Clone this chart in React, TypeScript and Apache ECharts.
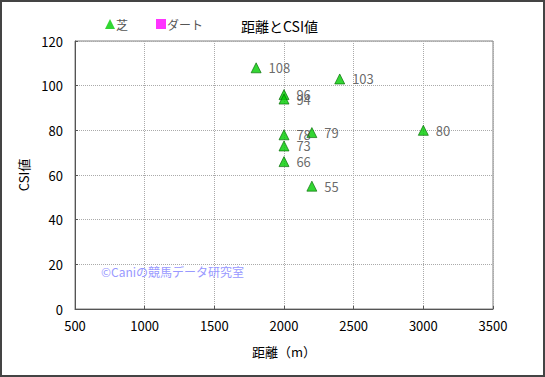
import React, { useEffect, useRef } from "react";
import * as echarts from "echarts";

const turfDistance = [1800, 2400, 2000, 2000, 2000, 2200, 2000, 2000, 2200, 3000];
const turfCSI = [108, 103, 96, 94, 78, 79, 73, 66, 55, 80];
const dirtDistance: number[] = [];
const dirtCSI: number[] = [];
const xTicks = { min: 500, max: 3500, interval: 500 };
const yTicks = { min: 0, max: 120, interval: 20 };

const FONT = '"Noto Sans CJK JP", "Noto Sans", sans-serif';

export default function App() {
  const ref = useRef<HTMLDivElement>(null);
  useEffect(() => {
    if (!ref.current) return;
    const chart = echarts.init(ref.current, undefined, { renderer: "svg" });
    const turf = turfDistance.map((d, i) => [d, turfCSI[i]]);
    const dirt = dirtDistance.map((d, i) => [d, dirtCSI[i]]);
    chart.setOption({
      animation: false,
      backgroundColor: "#fff",
      textStyle: { fontFamily: FONT },
      title: {
        text: "距離とCSI値",
        left: 236,
        top: 14,
        textStyle: { fontSize: 14, fontWeight: "normal", color: "#000", fontFamily: FONT },
      },
      legend: {
        left: 100,
        top: 13,
        itemGap: 28,
        itemWidth: 10,
        itemHeight: 10,
        textStyle: { fontSize: 12, color: "#555", fontFamily: FONT, padding: [0, 0, 0, -4] },
        data: [
          { name: "芝", icon: "triangle", itemStyle: { color: "#00cc00", borderWidth: 0 } },
          { name: "ダート", icon: "rect", itemStyle: { color: "#ff00ff", borderWidth: 0 } },
        ],
      },
      grid: { left: 75, top: 41, width: 418, height: 268, show: true, borderColor: "#808080", borderWidth: 1 },
      xAxis: {
        type: "value",
        min: xTicks.min,
        max: xTicks.max,
        interval: xTicks.interval,
        name: "距離（m）",
        nameLocation: "middle",
        nameGap: 36,
        nameTextStyle: { fontSize: 13, color: "#000", fontFamily: FONT },
        axisLine: { lineStyle: { color: "#555" } },
        axisTick: { show: true, inside: true, length: 3, lineStyle: { color: "#555" } },
        axisLabel: { fontSize: 13, color: "#000", margin: 10, formatter: (v: number) => String(v) },
        splitLine: { lineStyle: { type: "dotted", color: "#aaa" } },
      },
      yAxis: {
        type: "value",
        min: yTicks.min,
        max: yTicks.max,
        interval: yTicks.interval,
        name: "CSI値",
        nameLocation: "middle",
        nameGap: 42,
        nameTextStyle: { fontSize: 13, color: "#000", fontFamily: FONT },
        axisLine: { show: true, lineStyle: { color: "#555" } },
        axisTick: { show: true, inside: true, length: 3, lineStyle: { color: "#555" } },
        axisLabel: { fontSize: 13, color: "#000", margin: 12, formatter: (v: number) => String(v) },
        splitLine: { lineStyle: { type: "dotted", color: "#aaa" } },
      },
      series: [
        {
          name: "芝",
          type: "scatter",
          symbol: "triangle",
          symbolSize: 10,
          itemStyle: { color: "#00cc00", borderColor: "#006600", borderWidth: 0.8 },
          label: {
            show: true,
            position: "right",
            distance: 7,
            fontSize: 13,
            color: "#444",
            formatter: (p: any) => String(p.value[1]),
          },
          data: turf,
        },
        {
          name: "ダート",
          type: "scatter",
          symbol: "rect",
          symbolSize: 9,
          itemStyle: { color: "#ff00ff" },
          data: dirt,
        },
      ],
      graphic: [
        {
          type: "text",
          left: 101,
          top: 265,
          style: { text: "©Caniの競馬データ研究室", fontSize: 12, fill: "#9999ff", fontFamily: FONT },
          z: 10,
        },
        {
          type: "rect",
          shape: { x: 1, y: 1, width: 543, height: 375 },
          style: { fill: "none", stroke: "#444", lineWidth: 2 },
          z: 100,
        },
      ],
    });
    return () => chart.dispose();
  }, []);
  return <div ref={ref} style={{ position: "fixed", left: 0, top: 0, width: 545, height: 377 }} />;
}
